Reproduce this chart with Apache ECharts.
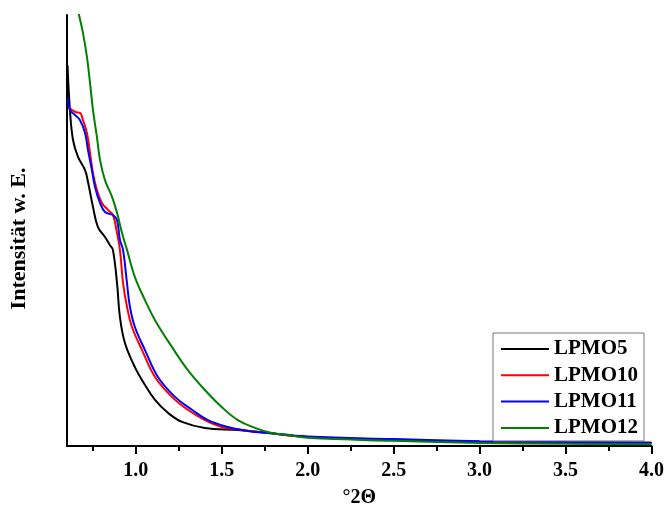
<!DOCTYPE html>
<html><head><meta charset="utf-8">
<script src="https://cdn.jsdelivr.net/npm/echarts@6/dist/echarts.min.js"></script>
<style>html,body{margin:0;padding:0;background:#fff}#c{width:667px;height:515px}</style>
</head><body><div id="c"></div>
<script>
const seriesNames = ['LPMO5', 'LPMO10', 'LPMO11', 'LPMO12'];
const xTickLabels = [1.0, 1.5, 2.0, 2.5, 3.0, 3.5, 4.0];
const xMinorTicks = [0.75, 1.25, 1.75, 2.25, 2.75, 3.25, 3.75];

const lpmo5 = [
  [0.603, 88.4], [0.617, 78.0], [0.635, 71.0], [0.664, 67.1], [0.705, 64.0], [0.722, 61.3],
  [0.751, 55.5], [0.780, 50.8], [0.821, 48.5], [0.850, 46.6], [0.867, 45.5], [0.891, 37.8],
  [0.908, 29.9], [0.937, 23.9], [0.995, 18.3], [1.053, 14.2], [1.112, 10.7], [1.187, 7.7],
  [1.269, 5.6], [1.402, 4.2], [1.594, 3.7], [1.734, 3.2], [2.0, 2.1], [2.5, 1.4],
  [3.0, 1.0], [3.5, 0.8], [4.0, 0.7]
];
const lpmo10 = [
  [0.606, 78.7], [0.647, 77.5], [0.676, 77.3], [0.693, 75.6], [0.716, 72.6], [0.734, 68.0],
  [0.751, 63.3], [0.774, 59.4], [0.803, 56.4], [0.838, 54.8], [0.867, 53.6], [0.891, 49.4],
  [0.908, 45.5], [0.926, 37.8], [0.949, 32.3], [0.978, 27.6], [1.036, 22.3], [1.112, 16.0],
  [1.210, 11.4], [1.303, 8.4], [1.402, 6.0], [1.501, 4.4], [1.617, 3.7], [1.734, 3.2],
  [2.0, 2.1], [2.5, 1.5], [3.0, 1.0], [3.5, 0.8], [4.0, 0.7]
];
const lpmo11 = [
  [0.606, 80.7], [0.617, 78.0], [0.647, 76.8], [0.676, 75.6], [0.705, 72.6], [0.722, 68.7],
  [0.745, 64.0], [0.763, 60.1], [0.792, 56.4], [0.821, 54.3], [0.867, 53.6], [0.891, 52.4],
  [0.908, 47.8], [0.926, 45.5], [0.949, 37.8], [0.966, 32.3], [0.995, 27.6], [1.053, 22.3],
  [1.129, 16.0], [1.228, 11.4], [1.327, 8.4], [1.420, 6.0], [1.536, 4.4], [1.652, 3.5],
  [1.769, 3.0], [2.0, 2.2], [2.5, 1.6], [3.0, 1.1], [3.5, 0.9], [4.0, 0.8]
];
const lpmo12 = [
  [0.600, 112.5], [0.670, 100.0], [0.693, 95.8], [0.716, 90.3], [0.734, 84.2], [0.751, 78.0],
  [0.774, 71.7], [0.792, 66.4], [0.821, 61.7], [0.862, 57.8], [0.891, 54.1], [0.920, 49.4],
  [0.949, 45.5], [0.995, 39.2], [1.053, 33.9], [1.112, 29.2], [1.210, 23.0], [1.303, 17.6],
  [1.402, 13.0], [1.501, 9.0], [1.594, 6.0], [1.693, 4.2], [1.792, 3.0], [1.885, 2.6],
  [2.0, 1.9], [2.5, 1.2], [3.0, 0.7], [3.5, 0.5], [4.0, 0.4]
];
const seriesData = [lpmo5, lpmo10, lpmo11, lpmo12];
const colors = ['#000000', '#ff0000', '#0000ff', '#008000'];

const font = '"Liberation Serif", "Times New Roman", serif';
const chart = echarts.init(document.getElementById('c'), null, {renderer: 'canvas'});
chart.setOption({
  animation: false,
  grid: {left: 67, right: 15, top: 15, bottom: 69, containLabel: false},
  xAxis: [{
    type: 'value', min: 0.6, max: 4.0, position: 'bottom',
    name: '°2Θ', nameLocation: 'middle', nameGap: 42,
    nameTextStyle: {fontFamily: font, fontSize: 20, fontWeight: 'bold', color: '#000'},
    axisLine: {show: true, onZero: false, lineStyle: {color: '#000', width: 2}},
    axisTick: {show: true, inside: false, length: 8, customValues: xTickLabels, lineStyle: {color: '#000', width: 2}},
    axisLabel: {show: true, customValues: xTickLabels, margin: 15, formatter: v => Number(v).toFixed(1),
      fontFamily: font, fontSize: 20, fontWeight: 'bold', color: '#000'},
    splitLine: {show: false}
  }, {
    type: 'value', min: 0.6, max: 4.0, position: 'bottom', gridIndex: 0,
    axisLine: {show: false, onZero: false},
    axisTick: {show: true, inside: false, length: 5, customValues: xMinorTicks, lineStyle: {color: '#000', width: 2}},
    axisLabel: {show: false},
    splitLine: {show: false}
  }],
  yAxis: {
    type: 'value', min: 0, max: 100,
    name: 'Intensität w. E.', nameLocation: 'middle', nameGap: 37, nameRotate: 90,
    nameTextStyle: {fontFamily: font, fontSize: 22, fontWeight: 'bold', color: '#000', padding: [0, 16, 0, 0]},
    axisLine: {show: true, onZero: false, lineStyle: {color: '#000', width: 2}},
    axisTick: {show: false}, axisLabel: {show: false}, splitLine: {show: false}
  },
  legend: {
    orient: 'vertical', left: 493, top: 333,
    padding: [5, 6, 2, 8], itemGap: 4.3, itemWidth: 48, itemHeight: 2, icon: 'rect',
    borderColor: '#777', borderWidth: 1, backgroundColor: '#fff',
    textStyle: {fontFamily: font, fontSize: 21, fontWeight: 'bold', color: '#000', lineHeight: 22},
    data: seriesNames
  },
  series: seriesNames.map((n, i) => ({
    name: n, type: 'line', xAxisIndex: 0, data: seriesData[i],
    smooth: 0.4, symbol: 'none', clip: true,
    lineStyle: {color: colors[i], width: 2}, itemStyle: {color: colors[i]}
  }))
});
</script></body></html>
